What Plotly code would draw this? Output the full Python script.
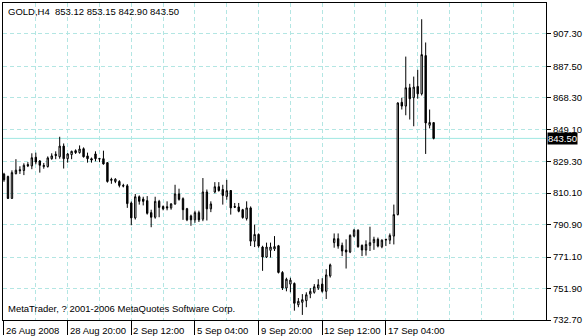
import plotly.graph_objects as go

# ---- data (GOLD, H4) ----
open_ = [821.7, 820.2, 806.9, 822.0, 824.4, 823.9, 827.5, 826.7, 832.0, 829.7,
         826.3, 826.3, 831.1, 833.8, 832.3, 838.8, 831.1, 833.6, 836.0, 834.8,
         837.2, 832.8, 831.1, 834.0, 831.2, 831.1, 828.7, 818.5, 817.2, 817.2,
         814.8, 814.6, 804.1, 795.0, 807.9, 806.5, 805.5, 798.2, 795.4, 805.1,
         801.9, 801.8, 801.1, 803.5, 809.6, 806.7, 800.6, 796.2, 793.8, 798.2,
         794.2, 810.8, 800.5, 810.8, 814.0, 812.3, 808.1, 811.7, 802.0, 801.7,
         800.0, 794.6, 801.1, 780.8, 784.9, 777.2, 771.1, 775.2, 776.0, 778.0,
         761.7, 752.2, 754.6, 755.0, 742.0, 743.5, 744.5, 748.5, 749.6, 752.2,
         754.6, 750.2, 759.6, 779.9, 782.3, 778.2, 775.4, 774.2, 783.9, 787.5,
         778.2, 775.4, 778.2, 779.9, 781.9, 777.4, 781.9, 781.4, 783.9, 797.0,
         865.5, 863.2, 874.4, 868.3, 875.2, 870.7, 894.0, 851.5, 853.12]
high = [822.5, 820.8, 824.0, 830.8, 826.5, 828.3, 829.0, 834.4, 834.8, 830.3,
        828.5, 832.5, 834.4, 835.6, 844.5, 840.4, 834.5, 836.0, 836.8, 839.2,
        838.0, 834.8, 831.8, 835.6, 831.4, 836.0, 829.0, 819.5, 819.2, 818.0,
        815.8, 815.6, 805.0, 809.6, 808.7, 807.9, 808.3, 800.0, 807.9, 806.0,
        802.6, 805.1, 804.0, 815.2, 812.8, 807.5, 801.1, 797.0, 799.4, 799.4,
        819.3, 812.3, 805.1, 816.8, 816.8, 815.2, 818.2, 811.9, 804.1, 804.1,
        800.5, 805.1, 802.0, 790.9, 785.5, 778.0, 779.9, 779.9, 783.9, 778.5,
        762.5, 758.5, 758.5, 755.6, 746.1, 748.5, 749.6, 752.2, 754.6, 757.6,
        758.2, 763.7, 767.1, 785.5, 785.5, 779.9, 781.9, 785.0, 788.3, 788.0,
        778.8, 781.3, 789.6, 783.5, 783.0, 781.9, 782.3, 785.5, 803.1, 865.5,
        868.3, 893.4, 876.8, 881.2, 885.3, 916.2, 902.0, 861.1, 853.15]
low = [817.0, 806.5, 806.5, 821.5, 821.8, 821.1, 826.0, 824.7, 827.7, 822.6,
       825.0, 825.7, 830.5, 830.8, 831.1, 825.1, 828.7, 830.8, 834.0, 834.2,
       831.8, 828.7, 828.7, 829.5, 829.0, 827.5, 816.5, 815.8, 816.2, 813.6,
       813.6, 801.1, 790.5, 794.0, 803.1, 802.6, 797.0, 789.3, 794.5, 795.4,
       799.6, 799.6, 800.0, 803.0, 805.5, 793.8, 793.0, 790.2, 792.0, 792.5,
       793.0, 793.4, 798.5, 810.0, 811.0, 803.1, 806.1, 797.0, 801.0, 798.4,
       794.5, 793.4, 777.8, 777.2, 776.8, 762.7, 770.5, 770.8, 774.8, 761.1,
       751.0, 750.2, 749.6, 738.4, 740.5, 735.8, 740.5, 746.0, 748.8, 751.0,
       749.4, 745.5, 758.6, 776.8, 776.2, 771.7, 764.1, 773.5, 783.2, 776.8,
       771.7, 772.0, 774.8, 775.5, 777.0, 776.5, 777.8, 779.0, 778.8, 796.5,
       861.1, 857.6, 855.0, 850.9, 867.7, 869.7, 834.0, 849.6, 842.90]
close = [818.2, 806.9, 822.6, 824.1, 823.8, 827.1, 826.8, 831.7, 829.1, 827.1,
         827.0, 831.6, 832.8, 833.0, 838.8, 831.1, 834.0, 835.6, 834.8, 837.0,
         832.3, 831.1, 830.3, 831.1, 830.9, 827.9, 817.2, 818.0, 818.6, 814.8,
         814.4, 803.7, 795.0, 807.9, 805.1, 805.1, 797.8, 795.4, 805.1, 801.4,
         800.5, 801.1, 803.5, 809.6, 806.3, 800.0, 793.8, 793.8, 798.2, 793.8,
         810.8, 800.5, 803.5, 814.0, 811.7, 808.7, 811.6, 801.1, 801.5, 799.0,
         795.2, 801.1, 780.8, 784.9, 777.8, 771.1, 777.2, 777.2, 777.5, 761.7,
         752.2, 757.6, 757.0, 742.9, 744.1, 745.1, 748.1, 750.2, 753.0, 754.2,
         750.2, 760.2, 766.3, 782.3, 777.8, 774.8, 774.2, 784.3, 787.5, 777.4,
         775.4, 778.8, 779.9, 781.9, 777.8, 781.4, 781.6, 784.3, 797.0, 865.1,
         863.2, 874.4, 867.7, 874.8, 870.7, 894.6, 852.9, 853.2, 843.50]
bar_index = list(range(len(close)))

x_tick_index = [0, 16, 32, 48, 64, 80, 96]
x_tick_text = ["26 Aug 2008", "28 Aug 20:00", "2 Sep 12:00", "5 Sep 04:00",
               "9 Sep 20:00", "12 Sep 12:00", "17 Sep 04:00"]
y_tick_text = ["732.70", "751.90", "771.10", "790.90", "810.10", "829.30",
               "849.10", "868.30", "887.50", "907.30"]
y_tick_vals = [float(t) for t in y_tick_text]

symbol = "GOLD,H4"
last_price = close[-1]
header = f"{symbol}\u00a0\u00a0{open_[-1]:.2f} {high[-1]:.2f} {low[-1]:.2f} {close[-1]:.2f}"
watermark = "MetaTrader, ? 2001-2006 MetaQuotes Software Corp."

FONT = "Liberation Sans"
FS = 9.5
GRID = "#b3e6e3"
PRICE_LINE = "#9fe8e2"

fig = go.Figure()
fig.add_trace(go.Candlestick(
    x=bar_index, open=open_, high=high, low=low, close=close,
    increasing=dict(line=dict(color="black", width=1), fillcolor="white"),
    decreasing=dict(line=dict(color="black", width=1), fillcolor="black"),
    whiskerwidth=0, hoverinfo="skip", showlegend=False,
))

fig.add_hline(y=last_price, line=dict(color=PRICE_LINE, width=1), layer="below")

fig.update_layout(
    width=584, height=336,
    margin=dict(l=2, r=36, t=2, b=15),
    paper_bgcolor="white", plot_bgcolor="white",
    font=dict(family=FONT, size=FS, color="black"),
    boxgap=0.5,
    showlegend=False,
    xaxis=dict(
        range=[-0.25, 136.25],
        rangeslider=dict(visible=False),
        tickmode="array", tickvals=x_tick_index, ticktext=x_tick_text,
        showticklabels=False,
        ticks="outside", ticklen=14, tickcolor="black", tickwidth=1,
        showgrid=False, zeroline=False,
        showline=True, linecolor="black", linewidth=1, mirror=True,
        minor=dict(tickmode="linear", tick0=0, dtick=8, showgrid=True,
                   gridcolor=GRID, griddash="4px,3px", gridwidth=1, ticks=""),
    ),
    yaxis=dict(
        side="right",
        range=[732.7, 732.7 + 319 * 0.60625],
        tickmode="array", tickvals=y_tick_vals, ticktext=y_tick_text,
        ticks="outside", ticklen=4, tickcolor="black",
        showgrid=True, gridcolor=GRID, griddash="4px,3px", gridwidth=1,
        zeroline=False,
        showline=True, linecolor="black", linewidth=1, mirror=True,
        tickfont=dict(family=FONT, size=FS, color="black"),
    ),
)

annotations = []
for xi, txt in zip(x_tick_index, x_tick_text):
    annotations.append(dict(x=xi, xref="x", y=0, yref="paper", text=txt,
                            showarrow=False, xanchor="left", yanchor="top",
                            xshift=1, yshift=-4, font=dict(family=FONT, size=FS),
                            borderpad=0))
annotations.append(dict(x=0, xref="paper", y=1, yref="paper", text=header,
                        showarrow=False, xanchor="left", yanchor="top",
                        xshift=3, yshift=-1, font=dict(family=FONT, size=FS)))
annotations.append(dict(x=0, xref="paper", y=0, yref="paper", text=watermark,
                        showarrow=False, xanchor="left", yanchor="bottom",
                        xshift=3, yshift=4, font=dict(family=FONT, size=FS)))
annotations.append(dict(x=1, xref="paper", y=last_price, yref="y",
                        text=f"{last_price:.2f}", showarrow=False,
                        xanchor="left", yanchor="middle", xshift=1,
                        bgcolor="black", font=dict(family=FONT, size=FS, color="white"),
                        borderpad=0))
fig.update_layout(annotations=annotations)

fig.write_html("out.html")
